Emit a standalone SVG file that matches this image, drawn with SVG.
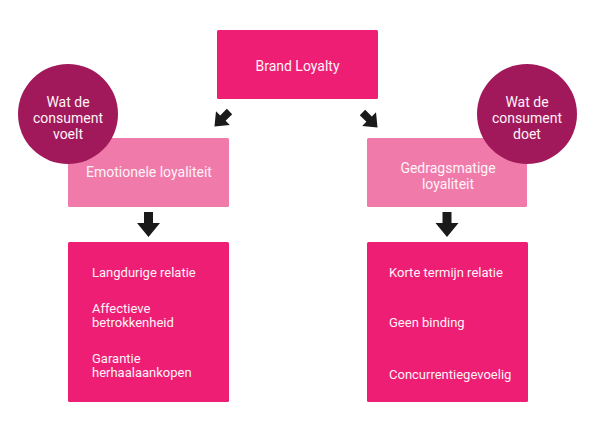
<svg xmlns="http://www.w3.org/2000/svg" width="595" height="432" viewBox="0 0 595 432">
<defs>
<style>
.hot{fill:#ED1E73}
.light{fill:#F07BAA}
.circ{fill:#A2195B}
text{font-family:Roboto,"Liberation Sans",sans-serif;fill:#FFF3F8;font-size:13px}
.c{text-anchor:middle}
.arr{fill:#1A1A1A}
</style>
<path id="arrow" d="M-4.5,-12.5 H4.5 V-1.5 H11.5 L0,12.5 L-11.5,-1.5 H-4.5 Z"/>
</defs>
<rect width="595" height="432" fill="#FFFFFF"/>
<g id="brand-loyalty">
<rect class="hot" x="217" y="30" width="161" height="69" rx="1.5"/>
<text class="c" x="297.5" y="71" style="font-size:14px">Brand Loyalty</text>
</g>
<g id="emotionele">
<rect class="light" x="68" y="138" width="161" height="69" rx="1.5"/>
<text class="c" x="149" y="177" style="font-size:14px">Emotionele loyaliteit</text>
</g>
<g id="gedragsmatige">
<rect class="light" x="367" y="138" width="160" height="69" rx="1.5"/>
<text class="c" x="448" y="173" style="font-size:14px">Gedragsmatige</text>
<text class="c" x="448" y="189" style="font-size:14px">loyaliteit</text>
</g>
<g id="voelt">
<circle class="circ" cx="68" cy="114" r="50"/>
<text class="c" x="68" y="107" style="font-size:14px">Wat de</text>
<text class="c" x="68" y="123" style="font-size:14px">consument</text>
<text class="c" x="68" y="139" style="font-size:14px">voelt</text>
</g>
<g id="doet">
<circle class="circ" cx="527" cy="114" r="50"/>
<text class="c" x="527" y="107" style="font-size:14px">Wat de</text>
<text class="c" x="527" y="123" style="font-size:14px">consument</text>
<text class="c" x="527" y="139" style="font-size:14px">doet</text>
</g>
<g id="emotioneel-kenmerken">
<rect class="hot" x="68" y="242" width="161" height="160" rx="1.5"/>
<text x="92" y="277">Langdurige relatie</text>
<text x="92" y="313">Affectieve</text>
<text x="92" y="327">betrokkenheid</text>
<text x="92" y="363">Garantie</text>
<text x="92" y="377">herhaalaankopen</text>
</g>
<g id="gedrag-kenmerken">
<rect class="hot" x="367" y="242" width="161" height="160" rx="1.5"/>
<text x="389" y="277">Korte termijn relatie</text>
<text x="389" y="327">Geen binding</text>
<text x="389" y="379">Concurrentiegevoelig</text>
</g>
<g id="connectors" class="arr">
<use href="#arrow" transform="translate(222,119) rotate(45) scale(0.85)"/>
<use href="#arrow" transform="translate(370,120) rotate(-45) scale(0.85)"/>
<use href="#arrow" transform="translate(148.5,224.5)"/>
<use href="#arrow" transform="translate(447,224.5)"/>
</g>
</svg>
